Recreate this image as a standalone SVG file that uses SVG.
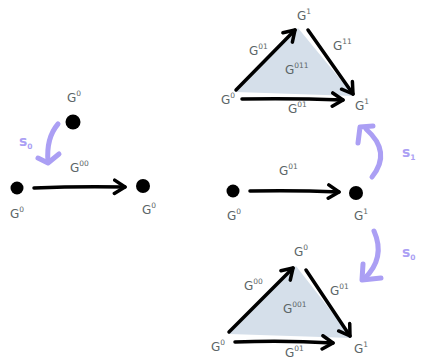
<svg xmlns="http://www.w3.org/2000/svg" width="428" height="359" viewBox="0 0 428 359">
<style>
.lbl{font-family:"DejaVu Sans",sans-serif;font-size:12px;fill:#5c6667}
.sup{font-size:7.5px}
.edge{fill:none;stroke:#000;stroke-width:3.5;stroke-linecap:round}
.tri{fill:#d5dfea;stroke:none}
.s{fill:none;stroke:#ab9ff4;stroke-width:5;stroke-linecap:round;stroke-linejoin:round}
.slbl{font-family:"DejaVu Sans",sans-serif;font-size:14px;fill:#ab9ff4;font-weight:bold}
.dot{fill:#000}
</style>
<defs>
<marker id="ah" markerWidth="5" markerHeight="5" refX="3.6" refY="2.5" orient="auto" markerUnits="strokeWidth">
<path d="M0.6,0.6 L3.6,2.5 L0.6,4.4" fill="none" stroke="#000" stroke-width="1" stroke-linecap="round" stroke-linejoin="round"/>
</marker>
</defs>
<g id="tri-top">
<polygon class="tri" points="236,92 298,28 354,96"/>
<text class="lbl" x="297" y="20">G<tspan class="sup" dy="-6">1</tspan></text>
<text class="lbl" x="249" y="55">G<tspan class="sup" dy="-6">01</tspan></text>
<text class="lbl" x="333" y="50">G<tspan class="sup" dy="-6">11</tspan></text>
<text class="lbl" x="285" y="74">G<tspan class="sup" dy="-6">011</tspan></text>
<text class="lbl" x="221" y="104">G<tspan class="sup" dy="-6">0</tspan></text>
<text class="lbl" x="288" y="113">G<tspan class="sup" dy="-6">01</tspan></text>
<text class="lbl" x="355" y="110">G<tspan class="sup" dy="-6">1</tspan></text>
</g>
<g id="tri-bottom">
<polygon class="tri" points="229,334 296,266 352,338"/>
<text class="lbl" x="294" y="256">G<tspan class="sup" dy="-6">0</tspan></text>
<text class="lbl" x="244" y="290">G<tspan class="sup" dy="-6">00</tspan></text>
<text class="lbl" x="330" y="295">G<tspan class="sup" dy="-6">01</tspan></text>
<text class="lbl" x="283" y="313">G<tspan class="sup" dy="-6">001</tspan></text>
<text class="lbl" x="211" y="351">G<tspan class="sup" dy="-6">0</tspan></text>
<text class="lbl" x="285" y="357">G<tspan class="sup" dy="-6">01</tspan></text>
<text class="lbl" x="354" y="353">G<tspan class="sup" dy="-6">1</tspan></text>
</g>
<g id="left-top">
<circle class="dot" cx="73" cy="122" r="7.5"/>
<text class="lbl" x="67" y="102">G<tspan class="sup" dy="-6">0</tspan></text>
</g>
<g id="left-a">
<circle class="dot" cx="17" cy="188" r="6.5"/>
<text class="lbl" x="10" y="218">G<tspan class="sup" dy="-6">0</tspan></text>
</g>
<g id="left-b">
<circle class="dot" cx="143" cy="186" r="7"/>
<text class="lbl" x="142" y="214">G<tspan class="sup" dy="-6">0</tspan></text>
<text class="lbl" x="70" y="172">G<tspan class="sup" dy="-6">00</tspan></text>
</g>
<g id="mid-a">
<circle class="dot" cx="233" cy="191" r="6.5"/>
<text class="lbl" x="227" y="220">G<tspan class="sup" dy="-6">0</tspan></text>
</g>
<g id="mid-b">
<circle class="dot" cx="356" cy="193" r="7"/>
<text class="lbl" x="354" y="220">G<tspan class="sup" dy="-6">1</tspan></text>
<text class="lbl" x="279" y="175">G<tspan class="sup" dy="-6">01</tspan></text>
</g>
<g id="connectors">
<path class="edge" d="M34,188 Q80,186 125,187" marker-end="url(#ah)"/>
<path class="edge" d="M250,191 Q295,190 339,192" marker-end="url(#ah)"/>
<path class="edge" d="M236,90 L295,30" marker-end="url(#ah)"/>
<path class="edge" d="M308,30 L353,94" marker-end="url(#ah)"/>
<path class="edge" d="M242,99 Q292,98 343,100" marker-end="url(#ah)"/>
<path class="edge" d="M229,332 L293,268" marker-end="url(#ah)"/>
<path class="edge" d="M306,270 L350,336" marker-end="url(#ah)"/>
<path class="edge" d="M235,342 Q284,340 333,343" marker-end="url(#ah)"/>
<path class="s" d="M58,124 Q46,138 48,162"/>
<path class="s" d="M38,158 L48,163 L59,154"/>
<path class="s" d="M372,177 Q392,152 366,129"/>
<path class="s" d="M358,143 L360,127 L373,126"/>
<path class="s" d="M374,231 Q386,258 364,279"/>
<path class="s" d="M363,264 L362,280 L381,278"/>
<text class="slbl" x="19" y="146">s<tspan class="sup" dy="3">0</tspan></text>
<text class="slbl" x="402" y="157">s<tspan class="sup" dy="3">1</tspan></text>
<text class="slbl" x="402" y="257">s<tspan class="sup" dy="3">0</tspan></text>
</g>
</svg>
